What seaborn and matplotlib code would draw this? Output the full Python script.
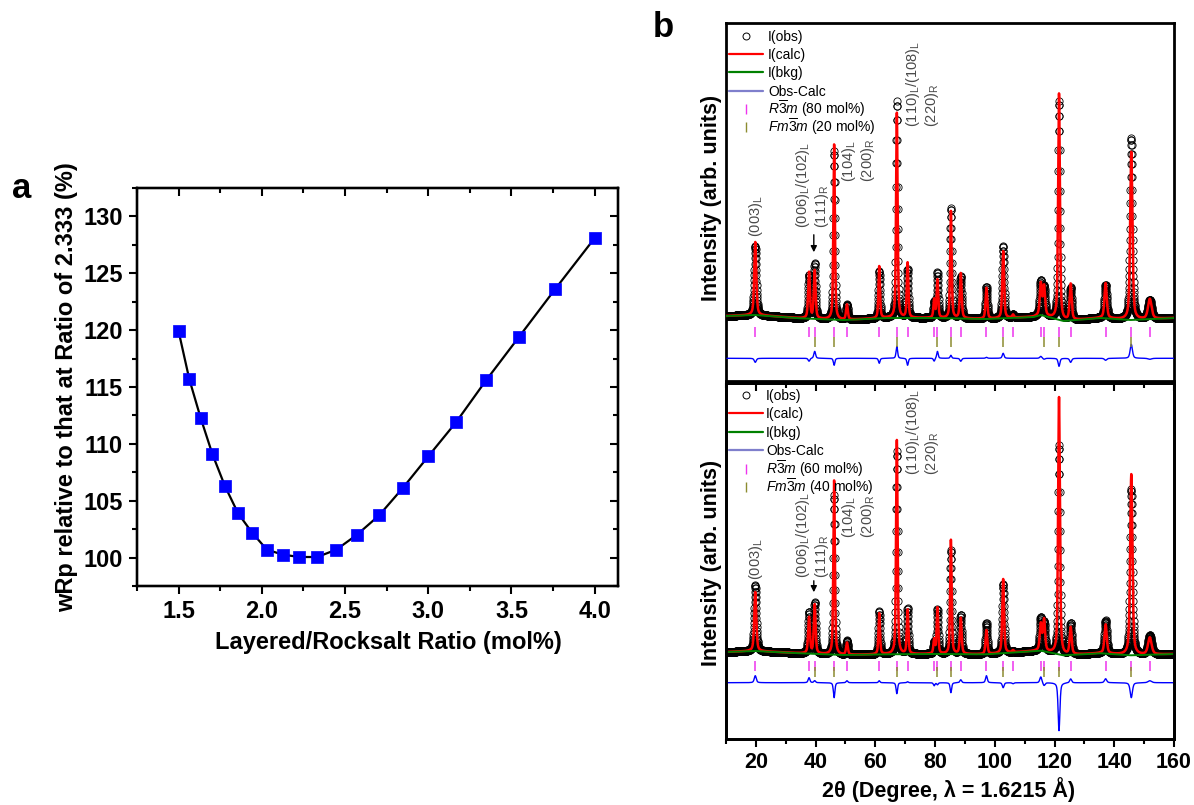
import numpy as np
import matplotlib
matplotlib.use("Agg")
import matplotlib.pyplot as plt
import seaborn as sns
from matplotlib.ticker import MultipleLocator

# ---------------- data: panel a ----------------
ratio = [1.500, 1.564, 1.632, 1.703, 1.778, 1.857, 1.941, 2.030, 2.125, 2.226,
         2.333, 2.448, 2.571, 2.704, 2.846, 3.000, 3.167, 3.348, 3.545, 3.762, 4.000]
wrp_rel = [119.9, 115.7, 112.3, 109.1, 106.3, 103.9, 102.2, 100.7, 100.26, 100.05,
           100.05, 100.7, 102.0, 103.7, 106.1, 108.9, 111.9, 115.6, 119.4, 123.6, 128.1]

# ---------------- data: panel b ----------------
peak_pos = [19.8, 37.8, 39.7, 46.2, 50.5, 61.3, 67.2, 70.8, 79.7, 80.8, 85.3,
            88.6, 97.2, 102.8, 106.1, 115.4, 116.5, 121.5, 125.4, 137.1, 145.7, 151.9]
peak_fwhm = [0.8, 0.7, 0.7, 0.6, 0.7, 0.6, 0.6, 0.6, 0.6, 0.6, 0.6,
             0.7, 0.7, 0.7, 0.7, 0.8, 0.8, 0.7, 0.8, 0.9, 0.9, 1.4]
# top pattern (80 mol% layered)
calc_top = [73, 46, 48, 175, 15, 52, 205, 55, 18, 38, 107, 45, 31, 67, 3, 31, 29, 226, 36, 35, 168, 20]
obs_top = [69, 43, 55, 168, 15, 47, 217, 48, 15, 45, 110, 42, 32, 72, 3, 33, 28, 218, 32, 33, 182, 19]
bkg_x_top = [10, 19.7, 35, 49.5, 64, 79.6, 97, 113, 115.4, 123, 135.5, 145.5, 160]
bkg_y_top = [-1, 0, -3.3, -5, -3, -3, -4, -2, 0, -6, -3, -5, -3]
# bottom pattern (60 mol% layered)
calc_bot = [59, 36, 49, 174, 12, 41, 214, 44, 14, 46, 114, 36, 24, 74, 2, 26, 31, 257, 27, 29, 181, 17]
obs_bot = [66, 41, 51, 159, 14, 43, 203, 45, 11, 44, 104, 39, 31, 69, 1, 32, 28, 209, 31, 33, 166, 19]
bkg_x_bot = [10, 19.7, 35, 49.5, 64, 79.6, 97, 115.4, 123, 135.5, 145.5, 160]
bkg_y_bot = [0, 1, -1.3, -3, -2.3, -2, -2.3, 1.3, -3.3, -1.3, -3.3, -2]

r3m_ticks = [19.8, 37.8, 39.7, 46.2, 50.5, 61.3, 67.2, 70.8, 79.7, 80.8, 85.3,
             88.6, 97.2, 102.8, 106.1, 115.4, 116.5, 121.5, 125.4, 137.1, 145.7, 151.9]
fm3m_ticks = [39.7, 46.2, 67.2, 80.8, 85.3, 102.8, 116.5, 121.5, 145.7]

# ---------------- style ----------------
sns.set_theme(style="white")
plt.rcParams["font.family"] = ["Liberation Sans", "DejaVu Sans"]
plt.rcParams["mathtext.fontset"] = "custom"
plt.rcParams["mathtext.rm"] = "Liberation Sans"
plt.rcParams["mathtext.it"] = "Liberation Sans:italic"
plt.rcParams["mathtext.bf"] = "Liberation Sans:bold"
plt.rcParams["mathtext.default"] = "regular"
for k in ("text.color", "axes.labelcolor", "xtick.color", "ytick.color", "axes.edgecolor"):
    plt.rcParams[k] = "black"

W, H = 1194, 805
fig = plt.figure(figsize=(W / 100, H / 100), dpi=100)


def box(l, t, r, b):
    return [l / W, 1 - b / H, (r - l) / W, (b - t) / H]


def fx(px):
    return px / W


def fy(py):
    return 1 - py / H


# ================= panel a =================
axa = fig.add_axes(box(137, 188, 618, 586))
sns.lineplot(x=ratio, y=wrp_rel, ax=axa, color="black", lw=1.6, estimator=None, sort=False)
sns.scatterplot(x=ratio, y=wrp_rel, ax=axa, marker="s", s=85, color="#0000FF",
                edgecolor="#0000FF", linewidth=0.5, zorder=3)
axa.set_xlim(1.25, 4.14)
axa.set_ylim(97.5, 132.5)
axa.xaxis.set_major_locator(MultipleLocator(0.5))
axa.xaxis.set_minor_locator(MultipleLocator(0.25))
axa.yaxis.set_major_locator(MultipleLocator(5))
axa.yaxis.set_minor_locator(MultipleLocator(2.5))
axa.tick_params(which="both", direction="out", width=1.5, top=False, right=False,
                bottom=True, left=True)
axa.tick_params(which="major", length=6, labelsize=17, pad=4)
axa.tick_params(which="minor", length=3.5)
for lab in axa.get_xticklabels() + axa.get_yticklabels():
    lab.set_fontweight("bold")
for sp in axa.spines.values():
    sp.set_linewidth(1.6)
    sp.set_color("black")
axt = axa.twiny()
axt.set_xlim(axa.get_xlim())
axt.xaxis.set_major_locator(MultipleLocator(0.5))
axt.xaxis.set_minor_locator(MultipleLocator(0.25))
axt.tick_params(axis="x", which="both", direction="in", width=1.5, top=True, bottom=False,
                labeltop=False, labelbottom=False)
axt.tick_params(axis="x", which="major", length=6)
axt.tick_params(axis="x", which="minor", length=3.5)
axr = axa.twinx()
axr.set_ylim(axa.get_ylim())
axr.yaxis.set_major_locator(MultipleLocator(5))
axr.yaxis.set_minor_locator(MultipleLocator(2.5))
axr.tick_params(axis="y", which="both", direction="in", width=1.5, right=True, left=False,
                labelright=False, labelleft=False)
axr.tick_params(axis="y", which="major", length=6)
axr.tick_params(axis="y", which="minor", length=3.5)
for a in (axt, axr):
    for sp in a.spines.values():
        sp.set_linewidth(1.6)
        sp.set_color("black")
axa.set_xlabel("")
axa.set_ylabel("")
fig.text(fx(388), fy(642), "Layered/Rocksalt Ratio (mol%)", fontsize=17, fontweight="bold",
         ha="center", va="center")
fig.text(fx(67), fy(387), "wRp relative to that at Ratio of 2.333 (%)", fontsize=17,
         fontweight="bold", ha="center", va="center", rotation=90)
fig.text(fx(12), fy(198), "a", fontsize=25, fontweight="bold", ha="left", va="baseline")

# ================= panel b =================
x_calc = np.arange(10.0, 160.0001, 0.01)
x_obs = np.arange(10.3, 159.95, 0.05)


def profile(x, heights):
    y = np.zeros_like(x)
    for c, w, h in zip(peak_pos, peak_fwhm, heights):
        d = (x - c) / w
        y += h * (0.5 * np.exp(-4 * np.log(2) * d ** 2) + 0.5 / (1 + 4 * d ** 2))
    return y


PINK = "#EE33EE"
OLIVE = "#8C8C30"


def draw_pattern(ax, calc_h, obs_h, bkx, bky, diff_off, pink_rng, olive_rng, ylim):
    bk_c = np.interp(x_calc, bkx, bky)
    bk_o = np.interp(x_obs, bkx, bky)
    calc = bk_c + profile(x_calc, calc_h)
    obs = bk_o + profile(x_obs, obs_h)
    calc_at_obs = bk_o + profile(x_obs, calc_h)
    diff = obs - calc_at_obs + diff_off
    ax.plot(x_obs, obs, "o", mfc="none", mec="black", ms=5.2, mew=0.6, zorder=2)
    sns.lineplot(x=x_calc, y=calc, ax=ax, color="#FF0000", lw=1.8, estimator=None,
                 sort=False, zorder=3)
    sns.lineplot(x=bkx, y=bky, ax=ax, color="#008000", lw=1.4, estimator=None,
                 sort=False, zorder=4)
    sns.lineplot(x=x_obs, y=diff, ax=ax, color="#0000FF", lw=1.0, estimator=None,
                 sort=False, zorder=4)
    ax.vlines(r3m_ticks, pink_rng[0], pink_rng[1], color=PINK, lw=1.1, zorder=4)
    ax.vlines(fm3m_ticks, olive_rng[0], olive_rng[1], color=OLIVE, lw=1.1, zorder=4)
    ax.set_xlim(10, 160)
    ax.set_ylim(*ylim)
    ax.set_yticks([])
    ax.set_xlabel("")
    ax.set_ylabel("")
    for sp in ax.spines.values():
        sp.set_linewidth(2.0)
        sp.set_color("black")


ax_up = fig.add_axes(box(726, 23, 1174, 381.5))
ax_lo = fig.add_axes(box(726, 382.5, 1174, 739))

draw_pattern(ax_up, calc_top, obs_top, bkg_x_top, bkg_y_top, -43.3,
             (-12, -22), (-22, -32), (-66.5, 292))
draw_pattern(ax_lo, calc_bot, obs_bot, bkg_x_bot, bkg_y_bot, -30.7,
             (-9, -19), (-15, -25), (-87, 269.5))

for ax in (ax_up, ax_lo):
    ax.xaxis.set_major_locator(MultipleLocator(20))
    ax.xaxis.set_minor_locator(MultipleLocator(10))

ax_up.tick_params(axis="x", which="both", bottom=False, top=False, labelbottom=False)
ax_lo.tick_params(axis="x", which="both", bottom=True, top=False, direction="out", width=1.5)
ax_lo.tick_params(axis="x", which="major", length=6, labelsize=15.5, pad=3)
ax_lo.tick_params(axis="x", which="minor", length=3.5)
for lab in ax_lo.get_xticklabels():
    lab.set_fontweight("bold")
ax_lt = ax_lo.twiny()
ax_lt.set_xlim(ax_lo.get_xlim())
ax_lt.xaxis.set_major_locator(MultipleLocator(20))
ax_lt.xaxis.set_minor_locator(MultipleLocator(10))
ax_lt.tick_params(axis="x", which="both", direction="in", width=1.5, top=True, bottom=False,
                  labeltop=False, labelbottom=False)
ax_lt.tick_params(axis="x", which="major", length=6)
ax_lt.tick_params(axis="x", which="minor", length=3.5)
ax_lt.set_yticks([])
for sp in ax_lt.spines.values():
    sp.set_linewidth(2.0)
    sp.set_color("black")


# legends (drawn row by row in pixel positions)
def legend_rows(ax, rows_y, text_x, pct_r, pct_f):
    to_ax = ax.transAxes.inverted()

    def axc(px, py):
        disp = (px, H - py)
        return to_ax.transform(disp)

    labels = ["I(obs)", "I(calc)", "I(bkg)", "Obs-Calc",
              r"$\mathit{R}\overline{3}\mathit{m}$ (%d mol%%)" % pct_r,
              r"$\mathit{Fm}\overline{3}\mathit{m}$ (%d mol%%)" % pct_f]
    styles = [("marker", "o", "black"), ("line", None, "#FF0000"), ("line", None, "#008000"),
              ("line", None, "#7F7FCC"), ("marker", "|", PINK), ("marker", "|", OLIVE)]
    for yc, lab, (kind, mk, col) in zip(rows_y, labels, styles):
        if kind == "line":
            p0 = axc(729, yc)
            p1 = axc(763, yc)
            ax.plot([p0[0], p1[0]], [p0[1], p1[1]], color=col, lw=1.6,
                    transform=ax.transAxes, clip_on=False, zorder=7)
        else:
            pm = axc(746, yc)
            if mk == "o":
                ax.plot([pm[0]], [pm[1]], "o", mfc="none", mec=col, ms=5, mew=0.7,
                        transform=ax.transAxes, clip_on=False, zorder=7)
            else:
                ax.plot([pm[0]], [pm[1]], "|", color=col, ms=7.5, mew=1.0,
                        transform=ax.transAxes, clip_on=False, zorder=7)
        pt = axc(text_x, yc + 5)
        ax.text(pt[0], pt[1], lab, transform=ax.transAxes, fontsize=10, ha="left",
                va="baseline", zorder=7)


legend_rows(ax_up, [36, 54.2, 72.4, 90.6, 108.8, 127], 768, 80, 20)
legend_rows(ax_lo, [395, 413.4, 431.8, 450.2, 468.6, 487], 766, 60, 40)

# peak annotations
GRAY = "#4A4A4A"


def annot(ax, x, y, s):
    ax.text(x, y, s, rotation=90, ha="center", va="bottom", fontsize=10.5, color=GRAY,
            multialignment="left", linespacing=1.05, zorder=6)


annot(ax_up, 20.0, 78, r"(003)$_{L}$")
annot(ax_up, 38.9, 87, "(006)$_{L}$/(102)$_{L}$\n(111)$_{R}$")
annot(ax_up, 54.3, 133, "(104)$_{L}$\n(200)$_{R}$")
annot(ax_up, 75.7, 188, "(110)$_{L}$/(108)$_{L}$\n(220)$_{R}$")
annot(ax_lo, 20.0, 72, r"(003)$_{L}$")
annot(ax_lo, 38.9, 74, "(006)$_{L}$/(102)$_{L}$\n(111)$_{R}$")
annot(ax_lo, 54.3, 114, "(104)$_{L}$\n(200)$_{R}$")
annot(ax_lo, 75.7, 177, "(110)$_{L}$/(108)$_{L}$\n(220)$_{R}$")

arrow_kw = dict(arrowstyle="-|>", color="black", lw=1.0, mutation_scale=9)
ax_up.annotate("", xy=(39.4, 60), xytext=(39.4, 83), arrowprops=arrow_kw, zorder=6)
ax_lo.annotate("", xy=(39.4, 57), xytext=(39.4, 74), arrowprops=arrow_kw, zorder=6)

fig.text(fx(712), fy(198), "Intensity (arb. units)", fontsize=15.5, fontweight="bold",
         ha="center", va="center", rotation=90)
fig.text(fx(712), fy(563), "Intensity (arb. units)", fontsize=15.5, fontweight="bold",
         ha="center", va="center", rotation=90)
fig.text(fx(949), fy(790), "2θ (Degree, λ = 1.6215 Å)", fontsize=15.5, fontweight="bold",
         ha="center", va="center")
fig.text(fx(653), fy(37), "b", fontsize=25, fontweight="bold", ha="left", va="baseline")

fig.savefig("out.png", dpi=100)
